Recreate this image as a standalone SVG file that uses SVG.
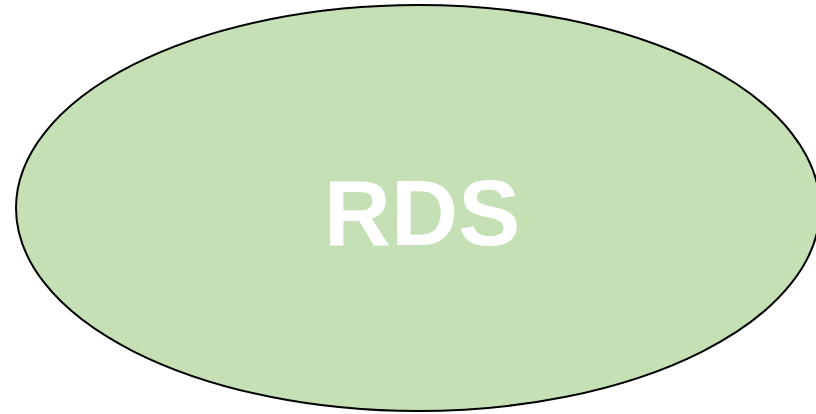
<svg xmlns="http://www.w3.org/2000/svg" width="816" height="414" viewBox="0 0 816 414">
<style>
.node-shape{fill:#C5E0B4;stroke:#000;stroke-width:2}
.node-label{font-family:"Liberation Sans",Arial,sans-serif;font-weight:bold;font-size:93px;fill:#fff;text-anchor:middle}
</style>
<rect width="816" height="414" fill="#fff"/>
<g id="connectors"></g>
<g id="node-rds">
<ellipse class="node-shape" cx="418" cy="208" rx="402" ry="203"/>
<text class="node-label" x="422" y="245">RDS</text>
</g>
</svg>
